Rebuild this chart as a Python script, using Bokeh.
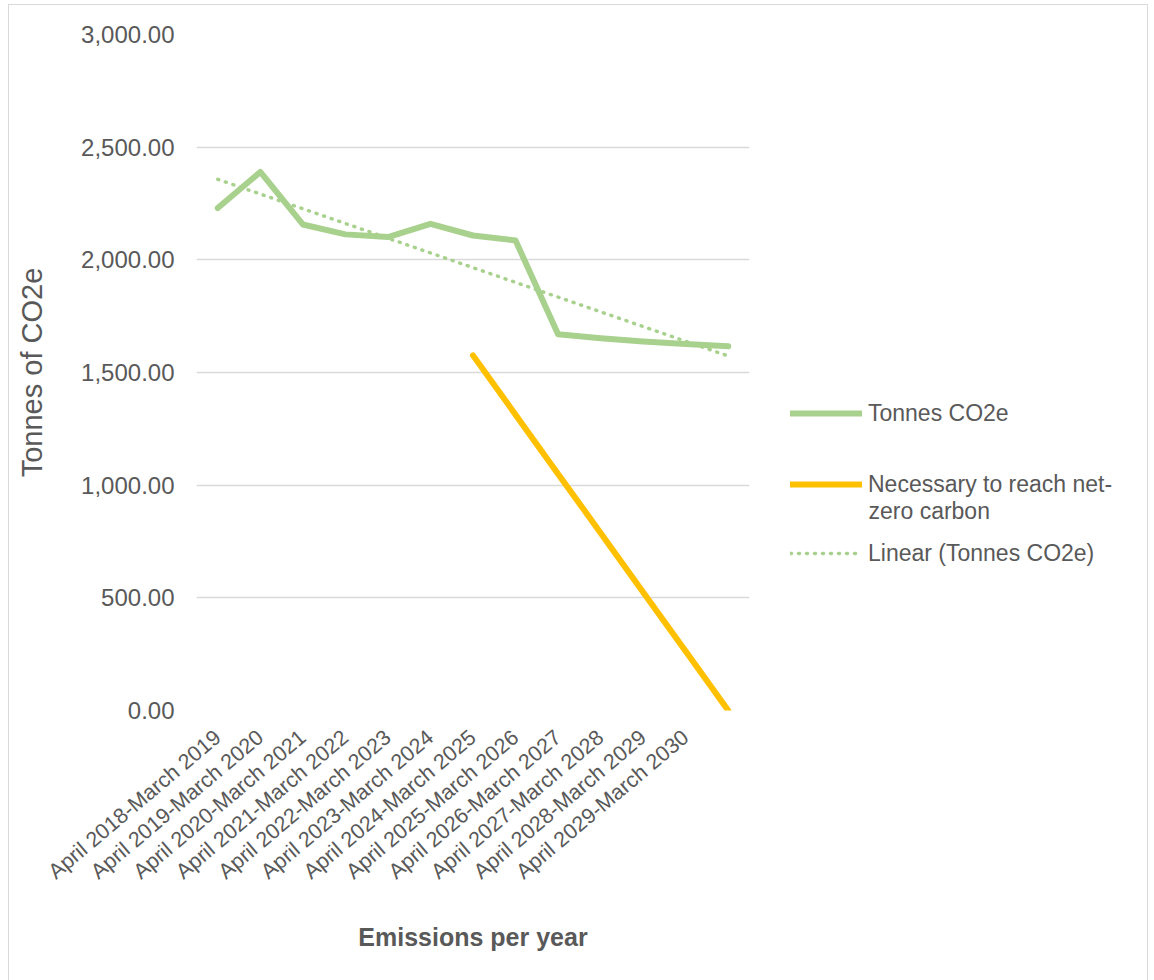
import math
from bokeh.plotting import figure
from bokeh.layouts import row
from bokeh.models import Range1d, FixedTicker, NumeralTickFormatter, Legend, LegendItem, Label
from bokeh.embed import file_html
from bokeh.resources import INLINE

categories = [
    "April 2018-March 2019", "April 2019-March 2020", "April 2020-March 2021",
    "April 2021-March 2022", "April 2022-March 2023", "April 2023-March 2024",
    "April 2024-March 2025", "April 2025-March 2026", "April 2026-March 2027",
    "April 2027-March 2028", "April 2028-March 2029", "April 2029-March 2030",
]
x_points = list(range(13))
tonnes = [2230, 2390, 2157, 2113, 2101, 2160, 2108, 2086, 1670, 1652, 1638, 1627, 1616]
necessary_x = [6, 7, 8, 9, 10, 11, 12]
necessary = [1576, 1313, 1050, 788, 525, 263, 0]
y_ticks = [0, 500, 1000, 1500, 2000, 2500, 3000]
legend_labels = ["Tonnes CO2e", "Necessary to reach net-", "zero carbon", "Linear (Tonnes CO2e)"]

# linear trend line (least squares) of Tonnes CO2e
n = len(x_points)
mx = sum(x_points) / n
my = sum(tonnes) / n
slope = sum((a - mx) * (b - my) for a, b in zip(x_points, tonnes)) / sum((a - mx) ** 2 for a in x_points)
icpt = my - slope * mx
trend = [icpt + slope * a for a in x_points]

GREEN = "#A9D18E"
ORANGE = "#FFC000"
TXT = "#595959"
FONT = "Liberation Sans"
BORDER = "1.5px solid #D9D9D9"

# ---------------- main chart ----------------
p = figure(width=752, height=976, output_backend="svg", toolbar_location=None,
           x_range=Range1d(-0.5, 12.5), y_range=Range1d(0, 3000),
           min_border_left=187, min_border_right=12, min_border_top=29, min_border_bottom=271)
p.margin = (4, 0, 0, 8)
p.styles = {"border-top": BORDER, "border-left": BORDER}
p.outline_line_color = None
p.background_fill_color = "white"
p.border_fill_color = "white"

p.xgrid.visible = False
p.ygrid.grid_line_color = "#D9D9D9"
p.ygrid.grid_line_width = 1.5
p.ygrid.ticker = FixedTicker(ticks=y_ticks)

p.yaxis.ticker = FixedTicker(ticks=y_ticks)
p.yaxis.formatter = NumeralTickFormatter(format="0,0.00")
p.yaxis.axis_line_color = None
p.yaxis.major_tick_line_color = None
p.yaxis.minor_tick_line_color = None
p.yaxis.major_label_standoff = 16
p.yaxis.major_label_text_font = FONT
p.yaxis.major_label_text_font_size = "24px"
p.yaxis.major_label_text_color = TXT
p.yaxis.axis_label = "Tonnes of CO2e"
p.yaxis.axis_label_text_font = FONT
p.yaxis.axis_label_text_font_size = "29px"
p.yaxis.axis_label_text_font_style = "normal"
p.yaxis.axis_label_text_color = TXT
p.yaxis.axis_label_standoff = 30

p.xaxis.ticker = FixedTicker(ticks=list(range(len(categories))))
p.xaxis.major_label_overrides = {i: c for i, c in enumerate(categories)}
p.xaxis.major_label_orientation = 0.70
p.xaxis.axis_line_color = None
p.xaxis.major_tick_line_color = None
p.xaxis.minor_tick_line_color = None
p.xaxis.major_label_standoff = 18
p.xaxis.major_label_text_font = FONT
p.xaxis.major_label_text_font_size = "21.5px"
p.xaxis.major_label_text_color = TXT
p.xaxis.axis_label = "Emissions per year"
p.xaxis.axis_label_text_font = FONT
p.xaxis.axis_label_text_font_size = "25px"
p.xaxis.axis_label_text_font_style = "bold"
p.xaxis.axis_label_text_color = TXT
p.xaxis.axis_label_standoff = 27

trend_style = dict(line_color=GREEN, line_width=3.5, line_dash="1 7", line_cap="round")
tonnes_style = dict(line_color=GREEN, line_width=6, line_join="round", line_cap="round")
nec_style = dict(line_color=ORANGE, line_width=6, line_cap="round")

p.line(x_points, trend, **trend_style)
p.line(x_points, tonnes, **tonnes_style)
p.line(necessary_x, necessary, **nec_style)

# ---------------- legend panel ----------------
q = figure(width=388, height=976, output_backend="svg", toolbar_location=None,
           x_axis_type=None, y_axis_type=None, x_range=Range1d(0, 1), y_range=Range1d(0, 1),
           min_border=0)
q.margin = (4, 6, 0, 0)
q.styles = {"border-top": BORDER, "border-right": BORDER}
q.outline_line_color = None
q.grid.visible = False
q.background_fill_color = "white"
q.border_fill_color = "white"

# legend keys: same series, lying outside this panel's visible ranges (draw nothing here)
k_tonnes = q.line(x_points, tonnes, **tonnes_style)
k_nec = q.line(necessary_x, necessary, **nec_style)
k_trend = q.line(x_points, trend, **trend_style)

FB = 709  # page y of the frame bottom (frames of the row are aligned)
X0 = 30   # legend x offset in the panel

def add_legend(label, rend, center_y):
    lg = Legend(items=[LegendItem(label=label, renderers=[rend])],
                location=(X0, FB - center_y - 13.5), orientation="vertical",
                background_fill_alpha=0, border_line_color=None,
                glyph_width=72, glyph_height=24, label_standoff=6,
                label_text_font=FONT, label_text_font_size="23px", label_text_color=TXT,
                padding=0, margin=0, spacing=0)
    q.add_layout(lg, "center")

add_legend(legend_labels[0], k_tonnes, 412)
add_legend(legend_labels[1], k_nec, 483)
q.add_layout(Label(x=X0 + 72 + 6, y=FB - 509, x_units="screen", y_units="screen",
                   text=legend_labels[2], text_font=FONT, text_font_size="23px",
                   text_color=TXT, text_baseline="middle", text_align="left"))
add_legend(legend_labels[3], k_trend, 552)

layout = row(p, q, spacing=0)
open("out.html", "w").write(file_html(layout, INLINE))
